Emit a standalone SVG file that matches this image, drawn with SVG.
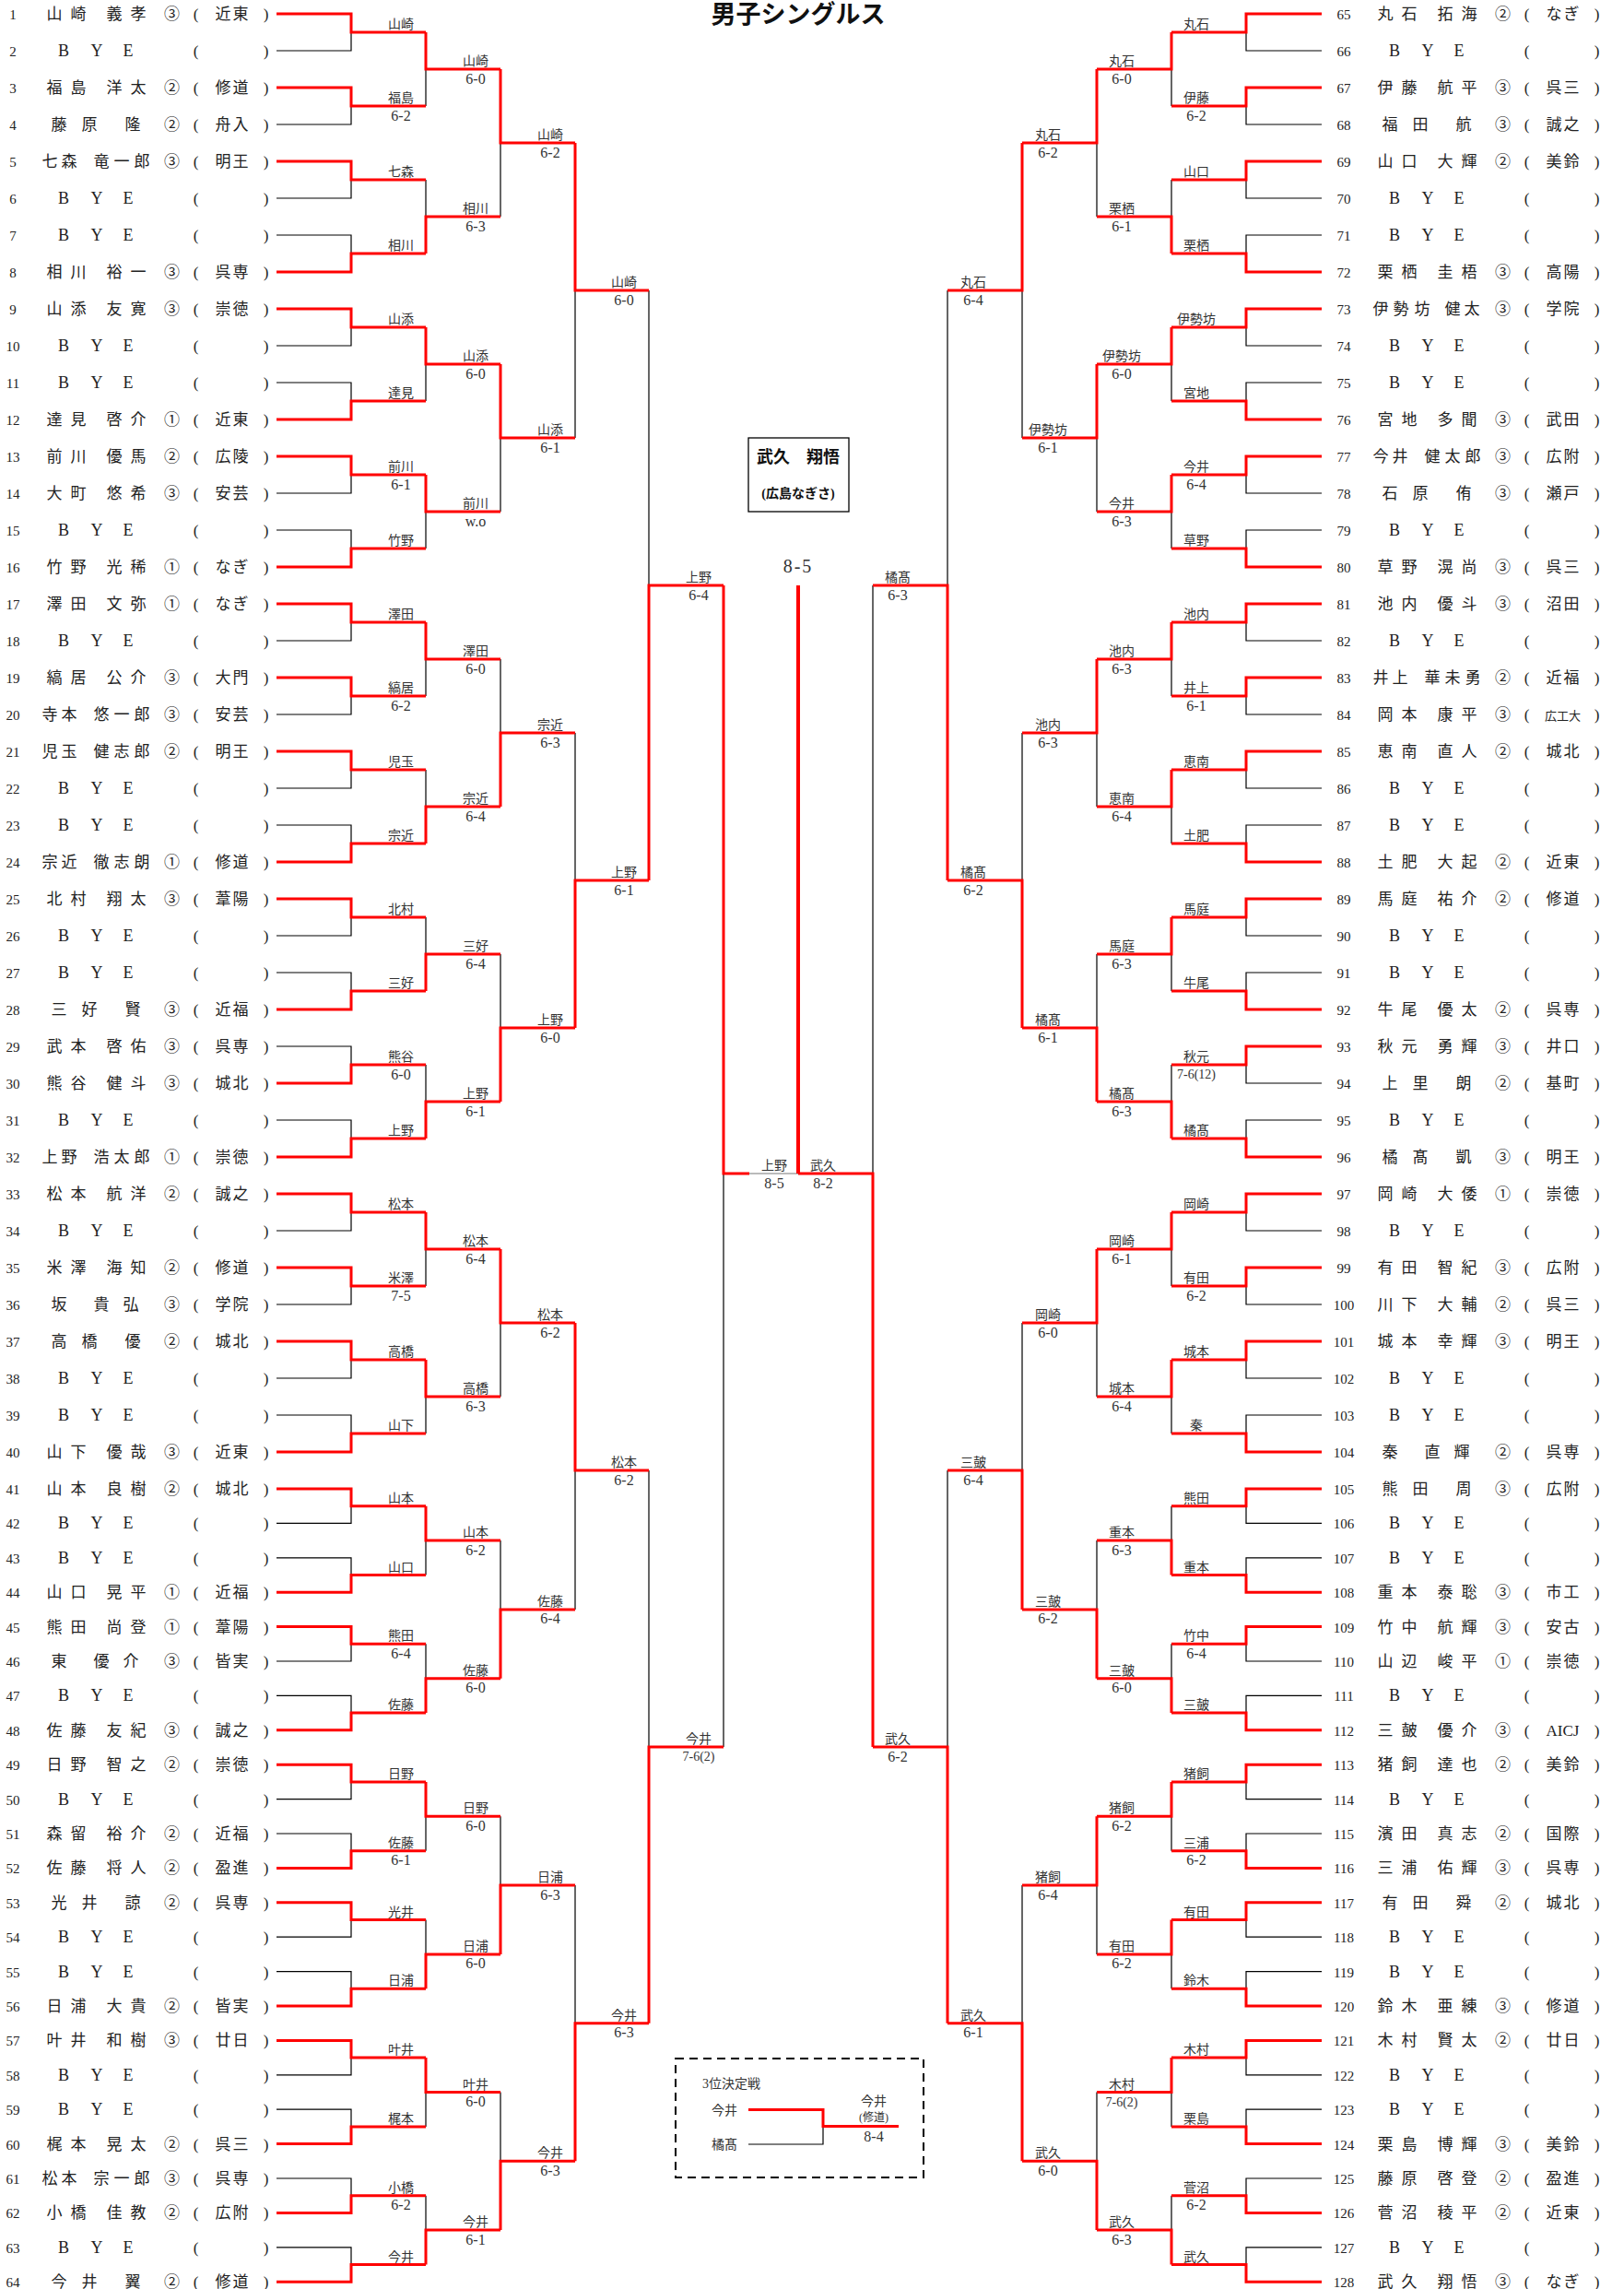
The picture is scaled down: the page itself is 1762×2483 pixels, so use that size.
<svg xmlns="http://www.w3.org/2000/svg" width="1762" height="2483" viewBox="0 0 1762 2483">
<style>
.no{font:15px "Liberation Serif",serif;fill:#222;text-anchor:middle}
.t{font:17px "Liberation Serif","Noto Sans CJK JP",serif;fill:#222;text-anchor:middle}
.by{font:18px "Liberation Serif",serif;fill:#222;text-anchor:middle}
.ts{font:13px "Liberation Serif","Noto Sans CJK JP",serif;fill:#222;text-anchor:middle}
.lb{font:14px "Liberation Serif","Noto Sans CJK JP",serif;fill:#333;text-anchor:middle}
.sc{font:16px "Liberation Serif",serif;fill:#333;text-anchor:middle}
.sm{font-size:14px}
.r{fill:none;stroke:#f00;stroke-width:3}
.k{fill:none;stroke:#000;stroke-width:1.2}
.g{fill:none;stroke:#777;stroke-width:1}
.ttl{font:bold 27px "Liberation Serif","Noto Sans CJK JP",serif;fill:#111;text-anchor:middle}
.ch{font-family:"Liberation Serif","Noto Sans CJK JP",serif;font-weight:bold;fill:#111;text-anchor:middle}
</style>
<rect width="1762" height="2483" fill="#fff"/>
<g id="title"><text class="ttl" x="866" y="25">男子シングルス</text></g>
<g id="connectors">
<path class="k" d="M300,55H381V35M300,135H381V115M300,215H381V195M300,255H381V275M300,375H381V355M300,415H381V435M300,535H381V515M300,575H381V595M300,695H381V675M300,775H381V755M300,855H381V835M300,895H381V915M300,1015H381V995M300,1055H381V1075M300,1135H381V1155M300,1215H381V1235M300,1335H381V1315M300,1415H381V1395M300,1495H381V1475M300,1535H381V1555M300,1652.4H381V1633.7M300,1689.8H381V1708.5M300,1802H381V1783.3M300,1839.4H381V1858.1M300,1951.6H381V1932.9M300,1989H381V2007.7M300,2101.2H381V2082.5M300,2138.6H381V2157.3M300,2250.8H381V2232.1M300,2288.2H381V2306.9M300,2363H381V2381.7M300,2437.8H381V2456.5"/>
<path class="k" d="M1434,55H1352V35M1434,135H1352V115M1434,215H1352V195M1434,255H1352V275M1434,375H1352V355M1434,415H1352V435M1434,535H1352V515M1434,575H1352V595M1434,695H1352V675M1434,775H1352V755M1434,855H1352V835M1434,895H1352V915M1434,1015H1352V995M1434,1055H1352V1075M1434,1175H1352V1155M1434,1215H1352V1235M1434,1335H1352V1315M1434,1415H1352V1395M1434,1495H1352V1475M1434,1535H1352V1555M1434,1652.4H1352V1633.7M1434,1689.8H1352V1708.5M1434,1802H1352V1783.3M1434,1839.4H1352V1858.1M1434,1951.6H1352V1932.9M1434,1989H1352V2007.7M1434,2101.2H1352V2082.5M1434,2138.6H1352V2157.3M1434,2250.8H1352V2232.1M1434,2288.2H1352V2306.9M1434,2363H1352V2381.7M1434,2437.8H1352V2456.5"/>
<path class="k" d="M462,115V75M462,195V235M462,435V395M462,595V555M462,755V715M462,835V875M462,995V1035M462,1155V1195M462,1395V1355M462,1555V1515M462,1708.5V1671.1M462,1783.3V1820.7M462,2007.7V1970.3M462,2082.5V2119.9M462,2306.9V2269.5M462,2381.7V2419.1"/>
<path class="k" d="M543,235V155M543,555V475M543,715V795M543,1035V1115M543,1515V1435M543,1671.1V1745.9M543,1970.3V2045.1M543,2269.5V2344.3"/>
<path class="k" d="M624,475V315M624,795V955M624,1745.9V1595M624,2045.1V2194.7M704,315V635M704,1595V1895M785,1895V1273"/>
<path class="k" d="M947,635V1273M1028,315V635M1028,1595V1895M1109,475V315M1109,795V955M1109,1435V1595M1109,2045.1V2194.7"/>
<path class="k" d="M1190,235V155M1190,555V475M1190,875V795M1190,1035V1115M1190,1515V1435M1190,1671.1V1745.9M1190,2119.9V2045.1M1190,2269.5V2344.3"/>
<path class="k" d="M1271,115V75M1271,195V235M1271,435V395M1271,595V555M1271,755V715M1271,915V875M1271,1075V1035M1271,1155V1195M1271,1395V1355M1271,1555V1515M1271,1633.7V1671.1M1271,1783.3V1820.7M1271,2007.7V1970.3M1271,2157.3V2119.9M1271,2306.9V2269.5M1271,2381.7V2419.1"/>
<path class="g" d="M813,1273H866"/>
<path class="r" d="M300,15H381V35H462M300,95H381V115H462M300,175H381V195H462M300,295H381V275H462M300,335H381V355H462M300,455H381V435H462M300,495H381V515H462M300,615H381V595H462M300,655H381V675H462M300,735H381V755H462M300,815H381V835H462M300,935H381V915H462M300,975H381V995H462M300,1095H381V1075H462M300,1175H381V1155H462M300,1255H381V1235H462M300,1295H381V1315H462M300,1375H381V1395H462M300,1455H381V1475H462M300,1575H381V1555H462M300,1615H381V1633.7H462M300,1727.2H381V1708.5H462M300,1764.6H381V1783.3H462M300,1876.8H381V1858.1H462M300,1914.2H381V1932.9H462M300,2026.4H381V2007.7H462M300,2063.8H381V2082.5H462M300,2176H381V2157.3H462M300,2213.4H381V2232.1H462M300,2325.6H381V2306.9H462M300,2400.4H381V2381.7H462M300,2475.2H381V2456.5H462"/>
<path class="r" d="M1434,15H1352V35H1271M1434,95H1352V115H1271M1434,175H1352V195H1271M1434,295H1352V275H1271M1434,335H1352V355H1271M1434,455H1352V435H1271M1434,495H1352V515H1271M1434,615H1352V595H1271M1434,655H1352V675H1271M1434,735H1352V755H1271M1434,815H1352V835H1271M1434,935H1352V915H1271M1434,975H1352V995H1271M1434,1095H1352V1075H1271M1434,1135H1352V1155H1271M1434,1255H1352V1235H1271M1434,1295H1352V1315H1271M1434,1375H1352V1395H1271M1434,1455H1352V1475H1271M1434,1575H1352V1555H1271M1434,1615H1352V1633.7H1271M1434,1727.2H1352V1708.5H1271M1434,1764.6H1352V1783.3H1271M1434,1876.8H1352V1858.1H1271M1434,1914.2H1352V1932.9H1271M1434,2026.4H1352V2007.7H1271M1434,2063.8H1352V2082.5H1271M1434,2176H1352V2157.3H1271M1434,2213.4H1352V2232.1H1271M1434,2325.6H1352V2306.9H1271M1434,2400.4H1352V2381.7H1271M1434,2475.2H1352V2456.5H1271"/>
<path class="r" d="M462,35V75H543M462,275V235H543M462,355V395H543M462,515V555H543M462,675V715H543M462,915V875H543M462,1075V1035H543M462,1235V1195H543M462,1315V1355H543M462,1475V1515H543M462,1633.7V1671.1H543M462,1858.1V1820.7H543M462,1932.9V1970.3H543M462,2157.3V2119.9H543M462,2232.1V2269.5H543M462,2456.5V2419.1H543"/>
<path class="r" d="M543,75V155H624M543,395V475H624M543,875V795H624M543,1195V1115H624M543,1355V1435H624M543,1820.7V1745.9H624M543,2119.9V2045.1H624M543,2419.1V2344.3H624"/>
<path class="r" d="M624,155V315H704M624,1115V955H704M624,1435V1595H704M624,2344.3V2194.7H704M704,955V635H785M704,2194.7V1895H785M785,635V1273H813"/>
<path class="r" d="M866,635V1273" style="stroke-width:4"/>
<path class="r" d="M947,1895V1273H866M1028,955V635H947M1028,2194.7V1895H947M1109,155V315H1028M1109,1115V955H1028M1109,1745.9V1595H1028M1109,2344.3V2194.7H1028"/>
<path class="r" d="M1190,75V155H1109M1190,395V475H1109M1190,715V795H1109M1190,1195V1115H1109M1190,1355V1435H1109M1190,1820.7V1745.9H1109M1190,1970.3V2045.1H1109M1190,2419.1V2344.3H1109"/>
<path class="r" d="M1271,35V75H1190M1271,275V235H1190M1271,355V395H1190M1271,515V555H1190M1271,675V715H1190M1271,835V875H1190M1271,995V1035H1190M1271,1235V1195H1190M1271,1315V1355H1190M1271,1475V1515H1190M1271,1708.5V1671.1H1190M1271,1858.1V1820.7H1190M1271,1932.9V1970.3H1190M1271,2082.5V2119.9H1190M1271,2232.1V2269.5H1190M1271,2456.5V2419.1H1190"/>
<path class="k" d="M812,2326H893V2306.4"/>
<path class="r" d="M812,2288.4H893V2306.4H975"/>
</g>
<g id="players">
<g id="p1" transform="translate(0,21)"><text class="no" x="14">1</text><text class="t" x="59 85 104 124 150">山崎　義孝</text><text class="t" x="186.5 212.5 242 261 288.5">③(近東)</text></g>
<g id="p2" transform="translate(0,61)"><text class="no" x="14">2</text><text class="by" x="69 105 139">BYE</text><text class="t" x="212.5 288.5">()</text></g>
<g id="p3" transform="translate(0,101)"><text class="no" x="14">3</text><text class="t" x="59 85 104 124 150">福島　洋太</text><text class="t" x="186.5 212.5 242 261 288.5">②(修道)</text></g>
<g id="p4" transform="translate(0,141)"><text class="no" x="14">4</text><text class="t" x="64 97 120 144">藤原　隆</text><text class="t" x="186.5 212.5 242 261 288.5">②(舟入)</text></g>
<g id="p5" transform="translate(0,181)"><text class="no" x="14">5</text><text class="t" x="54 75 92 110 132 154">七森　竜一郎</text><text class="t" x="186.5 212.5 242 261 288.5">③(明王)</text></g>
<g id="p6" transform="translate(0,221)"><text class="no" x="14">6</text><text class="by" x="69 105 139">BYE</text><text class="t" x="212.5 288.5">()</text></g>
<g id="p7" transform="translate(0,261)"><text class="no" x="14">7</text><text class="by" x="69 105 139">BYE</text><text class="t" x="212.5 288.5">()</text></g>
<g id="p8" transform="translate(0,301)"><text class="no" x="14">8</text><text class="t" x="59 85 104 124 150">相川　裕一</text><text class="t" x="186.5 212.5 242 261 288.5">③(呉専)</text></g>
<g id="p9" transform="translate(0,341)"><text class="no" x="14">9</text><text class="t" x="59 85 104 124 150">山添　友寛</text><text class="t" x="186.5 212.5 242 261 288.5">③(崇徳)</text></g>
<g id="p10" transform="translate(0,381)"><text class="no" x="14">10</text><text class="by" x="69 105 139">BYE</text><text class="t" x="212.5 288.5">()</text></g>
<g id="p11" transform="translate(0,421)"><text class="no" x="14">11</text><text class="by" x="69 105 139">BYE</text><text class="t" x="212.5 288.5">()</text></g>
<g id="p12" transform="translate(0,461)"><text class="no" x="14">12</text><text class="t" x="59 85 104 124 150">達見　啓介</text><text class="t" x="186.5 212.5 242 261 288.5">①(近東)</text></g>
<g id="p13" transform="translate(0,501)"><text class="no" x="14">13</text><text class="t" x="59 85 104 124 150">前川　優馬</text><text class="t" x="186.5 212.5 242 261 288.5">②(広陵)</text></g>
<g id="p14" transform="translate(0,541)"><text class="no" x="14">14</text><text class="t" x="59 85 104 124 150">大町　悠希</text><text class="t" x="186.5 212.5 242 261 288.5">③(安芸)</text></g>
<g id="p15" transform="translate(0,581)"><text class="no" x="14">15</text><text class="by" x="69 105 139">BYE</text><text class="t" x="212.5 288.5">()</text></g>
<g id="p16" transform="translate(0,621)"><text class="no" x="14">16</text><text class="t" x="59 85 104 124 150">竹野　光稀</text><text class="t" x="186.5 212.5 242 261 288.5">①(なぎ)</text></g>
<g id="p17" transform="translate(0,661)"><text class="no" x="14">17</text><text class="t" x="59 85 104 124 150">澤田　文弥</text><text class="t" x="186.5 212.5 242 261 288.5">①(なぎ)</text></g>
<g id="p18" transform="translate(0,701)"><text class="no" x="14">18</text><text class="by" x="69 105 139">BYE</text><text class="t" x="212.5 288.5">()</text></g>
<g id="p19" transform="translate(0,741)"><text class="no" x="14">19</text><text class="t" x="59 85 104 124 150">縞居　公介</text><text class="t" x="186.5 212.5 242 261 288.5">③(大門)</text></g>
<g id="p20" transform="translate(0,781)"><text class="no" x="14">20</text><text class="t" x="54 75 92 110 132 154">寺本　悠一郎</text><text class="t" x="186.5 212.5 242 261 288.5">③(安芸)</text></g>
<g id="p21" transform="translate(0,821)"><text class="no" x="14">21</text><text class="t" x="54 75 92 110 132 154">児玉　健志郎</text><text class="t" x="186.5 212.5 242 261 288.5">②(明王)</text></g>
<g id="p22" transform="translate(0,861)"><text class="no" x="14">22</text><text class="by" x="69 105 139">BYE</text><text class="t" x="212.5 288.5">()</text></g>
<g id="p23" transform="translate(0,901)"><text class="no" x="14">23</text><text class="by" x="69 105 139">BYE</text><text class="t" x="212.5 288.5">()</text></g>
<g id="p24" transform="translate(0,941)"><text class="no" x="14">24</text><text class="t" x="54 75 92 110 132 154">宗近　徹志朗</text><text class="t" x="186.5 212.5 242 261 288.5">①(修道)</text></g>
<g id="p25" transform="translate(0,981)"><text class="no" x="14">25</text><text class="t" x="59 85 104 124 150">北村　翔太</text><text class="t" x="186.5 212.5 242 261 288.5">③(葦陽)</text></g>
<g id="p26" transform="translate(0,1021)"><text class="no" x="14">26</text><text class="by" x="69 105 139">BYE</text><text class="t" x="212.5 288.5">()</text></g>
<g id="p27" transform="translate(0,1061)"><text class="no" x="14">27</text><text class="by" x="69 105 139">BYE</text><text class="t" x="212.5 288.5">()</text></g>
<g id="p28" transform="translate(0,1101)"><text class="no" x="14">28</text><text class="t" x="64 97 120 144">三好　賢</text><text class="t" x="186.5 212.5 242 261 288.5">③(近福)</text></g>
<g id="p29" transform="translate(0,1141)"><text class="no" x="14">29</text><text class="t" x="59 85 104 124 150">武本　啓佑</text><text class="t" x="186.5 212.5 242 261 288.5">③(呉専)</text></g>
<g id="p30" transform="translate(0,1181)"><text class="no" x="14">30</text><text class="t" x="59 85 104 124 150">熊谷　健斗</text><text class="t" x="186.5 212.5 242 261 288.5">③(城北)</text></g>
<g id="p31" transform="translate(0,1221)"><text class="no" x="14">31</text><text class="by" x="69 105 139">BYE</text><text class="t" x="212.5 288.5">()</text></g>
<g id="p32" transform="translate(0,1261)"><text class="no" x="14">32</text><text class="t" x="54 75 92 110 132 154">上野　浩太郎</text><text class="t" x="186.5 212.5 242 261 288.5">①(崇徳)</text></g>
<g id="p33" transform="translate(0,1301)"><text class="no" x="14">33</text><text class="t" x="59 85 104 124 150">松本　航洋</text><text class="t" x="186.5 212.5 242 261 288.5">②(誠之)</text></g>
<g id="p34" transform="translate(0,1341)"><text class="no" x="14">34</text><text class="by" x="69 105 139">BYE</text><text class="t" x="212.5 288.5">()</text></g>
<g id="p35" transform="translate(0,1381)"><text class="no" x="14">35</text><text class="t" x="59 85 104 124 150">米澤　海知</text><text class="t" x="186.5 212.5 242 261 288.5">②(修道)</text></g>
<g id="p36" transform="translate(0,1421)"><text class="no" x="14">36</text><text class="t" x="64 87 110 142">坂　貴弘</text><text class="t" x="186.5 212.5 242 261 288.5">③(学院)</text></g>
<g id="p37" transform="translate(0,1461)"><text class="no" x="14">37</text><text class="t" x="64 97 120 144">高橋　優</text><text class="t" x="186.5 212.5 242 261 288.5">②(城北)</text></g>
<g id="p38" transform="translate(0,1501)"><text class="no" x="14">38</text><text class="by" x="69 105 139">BYE</text><text class="t" x="212.5 288.5">()</text></g>
<g id="p39" transform="translate(0,1541)"><text class="no" x="14">39</text><text class="by" x="69 105 139">BYE</text><text class="t" x="212.5 288.5">()</text></g>
<g id="p40" transform="translate(0,1581)"><text class="no" x="14">40</text><text class="t" x="59 85 104 124 150">山下　優哉</text><text class="t" x="186.5 212.5 242 261 288.5">③(近東)</text></g>
<g id="p41" transform="translate(0,1621)"><text class="no" x="14">41</text><text class="t" x="59 85 104 124 150">山本　良樹</text><text class="t" x="186.5 212.5 242 261 288.5">②(城北)</text></g>
<g id="p42" transform="translate(0,1658.4)"><text class="no" x="14">42</text><text class="by" x="69 105 139">BYE</text><text class="t" x="212.5 288.5">()</text></g>
<g id="p43" transform="translate(0,1695.8)"><text class="no" x="14">43</text><text class="by" x="69 105 139">BYE</text><text class="t" x="212.5 288.5">()</text></g>
<g id="p44" transform="translate(0,1733.2)"><text class="no" x="14">44</text><text class="t" x="59 85 104 124 150">山口　晃平</text><text class="t" x="186.5 212.5 242 261 288.5">①(近福)</text></g>
<g id="p45" transform="translate(0,1770.6)"><text class="no" x="14">45</text><text class="t" x="59 85 104 124 150">熊田　尚登</text><text class="t" x="186.5 212.5 242 261 288.5">①(葦陽)</text></g>
<g id="p46" transform="translate(0,1808)"><text class="no" x="14">46</text><text class="t" x="64 87 110 142">東　優介</text><text class="t" x="186.5 212.5 242 261 288.5">③(皆実)</text></g>
<g id="p47" transform="translate(0,1845.4)"><text class="no" x="14">47</text><text class="by" x="69 105 139">BYE</text><text class="t" x="212.5 288.5">()</text></g>
<g id="p48" transform="translate(0,1882.8)"><text class="no" x="14">48</text><text class="t" x="59 85 104 124 150">佐藤　友紀</text><text class="t" x="186.5 212.5 242 261 288.5">③(誠之)</text></g>
<g id="p49" transform="translate(0,1920.2)"><text class="no" x="14">49</text><text class="t" x="59 85 104 124 150">日野　智之</text><text class="t" x="186.5 212.5 242 261 288.5">②(崇徳)</text></g>
<g id="p50" transform="translate(0,1957.6)"><text class="no" x="14">50</text><text class="by" x="69 105 139">BYE</text><text class="t" x="212.5 288.5">()</text></g>
<g id="p51" transform="translate(0,1995)"><text class="no" x="14">51</text><text class="t" x="59 85 104 124 150">森留　裕介</text><text class="t" x="186.5 212.5 242 261 288.5">②(近福)</text></g>
<g id="p52" transform="translate(0,2032.4)"><text class="no" x="14">52</text><text class="t" x="59 85 104 124 150">佐藤　将人</text><text class="t" x="186.5 212.5 242 261 288.5">②(盈進)</text></g>
<g id="p53" transform="translate(0,2069.8)"><text class="no" x="14">53</text><text class="t" x="64 97 120 144">光井　諒</text><text class="t" x="186.5 212.5 242 261 288.5">②(呉専)</text></g>
<g id="p54" transform="translate(0,2107.2)"><text class="no" x="14">54</text><text class="by" x="69 105 139">BYE</text><text class="t" x="212.5 288.5">()</text></g>
<g id="p55" transform="translate(0,2144.6)"><text class="no" x="14">55</text><text class="by" x="69 105 139">BYE</text><text class="t" x="212.5 288.5">()</text></g>
<g id="p56" transform="translate(0,2182)"><text class="no" x="14">56</text><text class="t" x="59 85 104 124 150">日浦　大貴</text><text class="t" x="186.5 212.5 242 261 288.5">②(皆実)</text></g>
<g id="p57" transform="translate(0,2219.4)"><text class="no" x="14">57</text><text class="t" x="59 85 104 124 150">叶井　和樹</text><text class="t" x="186.5 212.5 242 261 288.5">③(廿日)</text></g>
<g id="p58" transform="translate(0,2256.8)"><text class="no" x="14">58</text><text class="by" x="69 105 139">BYE</text><text class="t" x="212.5 288.5">()</text></g>
<g id="p59" transform="translate(0,2294.2)"><text class="no" x="14">59</text><text class="by" x="69 105 139">BYE</text><text class="t" x="212.5 288.5">()</text></g>
<g id="p60" transform="translate(0,2331.6)"><text class="no" x="14">60</text><text class="t" x="59 85 104 124 150">梶本　晃太</text><text class="t" x="186.5 212.5 242 261 288.5">②(呉三)</text></g>
<g id="p61" transform="translate(0,2369)"><text class="no" x="14">61</text><text class="t" x="54 75 92 110 132 154">松本　宗一郎</text><text class="t" x="186.5 212.5 242 261 288.5">③(呉専)</text></g>
<g id="p62" transform="translate(0,2406.4)"><text class="no" x="14">62</text><text class="t" x="59 85 104 124 150">小橋　佳教</text><text class="t" x="186.5 212.5 242 261 288.5">②(広附)</text></g>
<g id="p63" transform="translate(0,2443.8)"><text class="no" x="14">63</text><text class="by" x="69 105 139">BYE</text><text class="t" x="212.5 288.5">()</text></g>
<g id="p64" transform="translate(0,2481.2)"><text class="no" x="14">64</text><text class="t" x="64 97 120 144">今井　翼</text><text class="t" x="186.5 212.5 242 261 288.5">②(修道)</text></g>
<g id="p65" transform="translate(1444,21)"><text class="no" x="14">65</text><text class="t" x="59 85 104 124 150">丸石　拓海</text><text class="t" x="186.5 212.5 242 261 288.5">②(なぎ)</text></g>
<g id="p66" transform="translate(1444,61)"><text class="no" x="14">66</text><text class="by" x="69 105 139">BYE</text><text class="t" x="212.5 288.5">()</text></g>
<g id="p67" transform="translate(1444,101)"><text class="no" x="14">67</text><text class="t" x="59 85 104 124 150">伊藤　航平</text><text class="t" x="186.5 212.5 242 261 288.5">③(呉三)</text></g>
<g id="p68" transform="translate(1444,141)"><text class="no" x="14">68</text><text class="t" x="64 97 120 144">福田　航</text><text class="t" x="186.5 212.5 242 261 288.5">③(誠之)</text></g>
<g id="p69" transform="translate(1444,181)"><text class="no" x="14">69</text><text class="t" x="59 85 104 124 150">山口　大輝</text><text class="t" x="186.5 212.5 242 261 288.5">②(美鈴)</text></g>
<g id="p70" transform="translate(1444,221)"><text class="no" x="14">70</text><text class="by" x="69 105 139">BYE</text><text class="t" x="212.5 288.5">()</text></g>
<g id="p71" transform="translate(1444,261)"><text class="no" x="14">71</text><text class="by" x="69 105 139">BYE</text><text class="t" x="212.5 288.5">()</text></g>
<g id="p72" transform="translate(1444,301)"><text class="no" x="14">72</text><text class="t" x="59 85 104 124 150">栗栖　圭梧</text><text class="t" x="186.5 212.5 242 261 288.5">③(高陽)</text></g>
<g id="p73" transform="translate(1444,341)"><text class="no" x="14">73</text><text class="t" x="54 76 99 115 132 153">伊勢坊　健太</text><text class="t" x="186.5 212.5 242 261 288.5">③(学院)</text></g>
<g id="p74" transform="translate(1444,381)"><text class="no" x="14">74</text><text class="by" x="69 105 139">BYE</text><text class="t" x="212.5 288.5">()</text></g>
<g id="p75" transform="translate(1444,421)"><text class="no" x="14">75</text><text class="by" x="69 105 139">BYE</text><text class="t" x="212.5 288.5">()</text></g>
<g id="p76" transform="translate(1444,461)"><text class="no" x="14">76</text><text class="t" x="59 85 104 124 150">宮地　多聞</text><text class="t" x="186.5 212.5 242 261 288.5">③(武田)</text></g>
<g id="p77" transform="translate(1444,501)"><text class="no" x="14">77</text><text class="t" x="54 75 92 110 132 154">今井　健太郎</text><text class="t" x="186.5 212.5 242 261 288.5">③(広附)</text></g>
<g id="p78" transform="translate(1444,541)"><text class="no" x="14">78</text><text class="t" x="64 97 120 144">石原　侑</text><text class="t" x="186.5 212.5 242 261 288.5">③(瀬戸)</text></g>
<g id="p79" transform="translate(1444,581)"><text class="no" x="14">79</text><text class="by" x="69 105 139">BYE</text><text class="t" x="212.5 288.5">()</text></g>
<g id="p80" transform="translate(1444,621)"><text class="no" x="14">80</text><text class="t" x="59 85 104 124 150">草野　滉尚</text><text class="t" x="186.5 212.5 242 261 288.5">③(呉三)</text></g>
<g id="p81" transform="translate(1444,661)"><text class="no" x="14">81</text><text class="t" x="59 85 104 124 150">池内　優斗</text><text class="t" x="186.5 212.5 242 261 288.5">③(沼田)</text></g>
<g id="p82" transform="translate(1444,701)"><text class="no" x="14">82</text><text class="by" x="69 105 139">BYE</text><text class="t" x="212.5 288.5">()</text></g>
<g id="p83" transform="translate(1444,741)"><text class="no" x="14">83</text><text class="t" x="54 75 92 110 132 154">井上　華未勇</text><text class="t" x="186.5 212.5 242 261 288.5">②(近福)</text></g>
<g id="p84" transform="translate(1444,781)"><text class="no" x="14">84</text><text class="t" x="59 85 104 124 150">岡本　康平</text><text class="t" x="186.5">③</text><text class="t" x="212.5">(</text><text class="ts" x="251.5">広工大</text><text class="t" x="288.5">)</text></g>
<g id="p85" transform="translate(1444,821)"><text class="no" x="14">85</text><text class="t" x="59 85 104 124 150">恵南　直人</text><text class="t" x="186.5 212.5 242 261 288.5">②(城北)</text></g>
<g id="p86" transform="translate(1444,861)"><text class="no" x="14">86</text><text class="by" x="69 105 139">BYE</text><text class="t" x="212.5 288.5">()</text></g>
<g id="p87" transform="translate(1444,901)"><text class="no" x="14">87</text><text class="by" x="69 105 139">BYE</text><text class="t" x="212.5 288.5">()</text></g>
<g id="p88" transform="translate(1444,941)"><text class="no" x="14">88</text><text class="t" x="59 85 104 124 150">土肥　大起</text><text class="t" x="186.5 212.5 242 261 288.5">②(近東)</text></g>
<g id="p89" transform="translate(1444,981)"><text class="no" x="14">89</text><text class="t" x="59 85 104 124 150">馬庭　祐介</text><text class="t" x="186.5 212.5 242 261 288.5">②(修道)</text></g>
<g id="p90" transform="translate(1444,1021)"><text class="no" x="14">90</text><text class="by" x="69 105 139">BYE</text><text class="t" x="212.5 288.5">()</text></g>
<g id="p91" transform="translate(1444,1061)"><text class="no" x="14">91</text><text class="by" x="69 105 139">BYE</text><text class="t" x="212.5 288.5">()</text></g>
<g id="p92" transform="translate(1444,1101)"><text class="no" x="14">92</text><text class="t" x="59 85 104 124 150">牛尾　優太</text><text class="t" x="186.5 212.5 242 261 288.5">②(呉専)</text></g>
<g id="p93" transform="translate(1444,1141)"><text class="no" x="14">93</text><text class="t" x="59 85 104 124 150">秋元　勇輝</text><text class="t" x="186.5 212.5 242 261 288.5">③(井口)</text></g>
<g id="p94" transform="translate(1444,1181)"><text class="no" x="14">94</text><text class="t" x="64 97 120 144">上里　朗</text><text class="t" x="186.5 212.5 242 261 288.5">②(基町)</text></g>
<g id="p95" transform="translate(1444,1221)"><text class="no" x="14">95</text><text class="by" x="69 105 139">BYE</text><text class="t" x="212.5 288.5">()</text></g>
<g id="p96" transform="translate(1444,1261)"><text class="no" x="14">96</text><text class="t" x="64 97 120 144">橘髙　凱</text><text class="t" x="186.5 212.5 242 261 288.5">③(明王)</text></g>
<g id="p97" transform="translate(1444,1301)"><text class="no" x="14">97</text><text class="t" x="59 85 104 124 150">岡崎　大倭</text><text class="t" x="186.5 212.5 242 261 288.5">①(崇徳)</text></g>
<g id="p98" transform="translate(1444,1341)"><text class="no" x="14">98</text><text class="by" x="69 105 139">BYE</text><text class="t" x="212.5 288.5">()</text></g>
<g id="p99" transform="translate(1444,1381)"><text class="no" x="14">99</text><text class="t" x="59 85 104 124 150">有田　智紀</text><text class="t" x="186.5 212.5 242 261 288.5">③(広附)</text></g>
<g id="p100" transform="translate(1444,1421)"><text class="no" x="14">100</text><text class="t" x="59 85 104 124 150">川下　大輔</text><text class="t" x="186.5 212.5 242 261 288.5">②(呉三)</text></g>
<g id="p101" transform="translate(1444,1461)"><text class="no" x="14">101</text><text class="t" x="59 85 104 124 150">城本　幸輝</text><text class="t" x="186.5 212.5 242 261 288.5">③(明王)</text></g>
<g id="p102" transform="translate(1444,1501)"><text class="no" x="14">102</text><text class="by" x="69 105 139">BYE</text><text class="t" x="212.5 288.5">()</text></g>
<g id="p103" transform="translate(1444,1541)"><text class="no" x="14">103</text><text class="by" x="69 105 139">BYE</text><text class="t" x="212.5 288.5">()</text></g>
<g id="p104" transform="translate(1444,1581)"><text class="no" x="14">104</text><text class="t" x="64 87 110 142">秦　直輝</text><text class="t" x="186.5 212.5 242 261 288.5">②(呉専)</text></g>
<g id="p105" transform="translate(1444,1621)"><text class="no" x="14">105</text><text class="t" x="64 97 120 144">熊田　周</text><text class="t" x="186.5 212.5 242 261 288.5">③(広附)</text></g>
<g id="p106" transform="translate(1444,1658.4)"><text class="no" x="14">106</text><text class="by" x="69 105 139">BYE</text><text class="t" x="212.5 288.5">()</text></g>
<g id="p107" transform="translate(1444,1695.8)"><text class="no" x="14">107</text><text class="by" x="69 105 139">BYE</text><text class="t" x="212.5 288.5">()</text></g>
<g id="p108" transform="translate(1444,1733.2)"><text class="no" x="14">108</text><text class="t" x="59 85 104 124 150">重本　泰聡</text><text class="t" x="186.5 212.5 242 261 288.5">③(市工)</text></g>
<g id="p109" transform="translate(1444,1770.6)"><text class="no" x="14">109</text><text class="t" x="59 85 104 124 150">竹中　航輝</text><text class="t" x="186.5 212.5 242 261 288.5">③(安古)</text></g>
<g id="p110" transform="translate(1444,1808)"><text class="no" x="14">110</text><text class="t" x="59 85 104 124 150">山辺　峻平</text><text class="t" x="186.5 212.5 242 261 288.5">①(崇徳)</text></g>
<g id="p111" transform="translate(1444,1845.4)"><text class="no" x="14">111</text><text class="by" x="69 105 139">BYE</text><text class="t" x="212.5 288.5">()</text></g>
<g id="p112" transform="translate(1444,1882.8)"><text class="no" x="14">112</text><text class="t" x="59 85 104 124 150">三皷　優介</text><text class="t" x="186.5">③</text><text class="t" x="212.5">(</text><text class="t" x="251.5">AICJ</text><text class="t" x="288.5">)</text></g>
<g id="p113" transform="translate(1444,1920.2)"><text class="no" x="14">113</text><text class="t" x="59 85 104 124 150">猪飼　達也</text><text class="t" x="186.5 212.5 242 261 288.5">②(美鈴)</text></g>
<g id="p114" transform="translate(1444,1957.6)"><text class="no" x="14">114</text><text class="by" x="69 105 139">BYE</text><text class="t" x="212.5 288.5">()</text></g>
<g id="p115" transform="translate(1444,1995)"><text class="no" x="14">115</text><text class="t" x="59 85 104 124 150">濱田　真志</text><text class="t" x="186.5 212.5 242 261 288.5">②(国際)</text></g>
<g id="p116" transform="translate(1444,2032.4)"><text class="no" x="14">116</text><text class="t" x="59 85 104 124 150">三浦　佑輝</text><text class="t" x="186.5 212.5 242 261 288.5">③(呉専)</text></g>
<g id="p117" transform="translate(1444,2069.8)"><text class="no" x="14">117</text><text class="t" x="64 97 120 144">有田　舜</text><text class="t" x="186.5 212.5 242 261 288.5">②(城北)</text></g>
<g id="p118" transform="translate(1444,2107.2)"><text class="no" x="14">118</text><text class="by" x="69 105 139">BYE</text><text class="t" x="212.5 288.5">()</text></g>
<g id="p119" transform="translate(1444,2144.6)"><text class="no" x="14">119</text><text class="by" x="69 105 139">BYE</text><text class="t" x="212.5 288.5">()</text></g>
<g id="p120" transform="translate(1444,2182)"><text class="no" x="14">120</text><text class="t" x="59 85 104 124 150">鈴木　亜練</text><text class="t" x="186.5 212.5 242 261 288.5">③(修道)</text></g>
<g id="p121" transform="translate(1444,2219.4)"><text class="no" x="14">121</text><text class="t" x="59 85 104 124 150">木村　賢太</text><text class="t" x="186.5 212.5 242 261 288.5">②(廿日)</text></g>
<g id="p122" transform="translate(1444,2256.8)"><text class="no" x="14">122</text><text class="by" x="69 105 139">BYE</text><text class="t" x="212.5 288.5">()</text></g>
<g id="p123" transform="translate(1444,2294.2)"><text class="no" x="14">123</text><text class="by" x="69 105 139">BYE</text><text class="t" x="212.5 288.5">()</text></g>
<g id="p124" transform="translate(1444,2331.6)"><text class="no" x="14">124</text><text class="t" x="59 85 104 124 150">栗島　博輝</text><text class="t" x="186.5 212.5 242 261 288.5">③(美鈴)</text></g>
<g id="p125" transform="translate(1444,2369)"><text class="no" x="14">125</text><text class="t" x="59 85 104 124 150">藤原　啓登</text><text class="t" x="186.5 212.5 242 261 288.5">②(盈進)</text></g>
<g id="p126" transform="translate(1444,2406.4)"><text class="no" x="14">126</text><text class="t" x="59 85 104 124 150">菅沼　稜平</text><text class="t" x="186.5 212.5 242 261 288.5">②(近東)</text></g>
<g id="p127" transform="translate(1444,2443.8)"><text class="no" x="14">127</text><text class="by" x="69 105 139">BYE</text><text class="t" x="212.5 288.5">()</text></g>
<g id="p128" transform="translate(1444,2481.2)"><text class="no" x="14">128</text><text class="t" x="59 85 104 124 150">武久　翔悟</text><text class="t" x="186.5 212.5 242 261 288.5">③(なぎ)</text></g>
</g>
<g id="results">
<g id="a1-1" transform="translate(435,35)"><text class="lb" y="-4">山崎</text></g>
<g id="a1-2" transform="translate(435,115)"><text class="lb" y="-4">福島</text><text class="sc" y="15.5">6-2</text></g>
<g id="a1-3" transform="translate(435,195)"><text class="lb" y="-4">七森</text></g>
<g id="a1-4" transform="translate(435,275)"><text class="lb" y="-4">相川</text></g>
<g id="a1-5" transform="translate(435,355)"><text class="lb" y="-4">山添</text></g>
<g id="a1-6" transform="translate(435,435)"><text class="lb" y="-4">達見</text></g>
<g id="a1-7" transform="translate(435,515)"><text class="lb" y="-4">前川</text><text class="sc" y="15.5">6-1</text></g>
<g id="a1-8" transform="translate(435,595)"><text class="lb" y="-4">竹野</text></g>
<g id="a1-9" transform="translate(435,675)"><text class="lb" y="-4">澤田</text></g>
<g id="a1-10" transform="translate(435,755)"><text class="lb" y="-4">縞居</text><text class="sc" y="15.5">6-2</text></g>
<g id="a1-11" transform="translate(435,835)"><text class="lb" y="-4">児玉</text></g>
<g id="a1-12" transform="translate(435,915)"><text class="lb" y="-4">宗近</text></g>
<g id="a1-13" transform="translate(435,995)"><text class="lb" y="-4">北村</text></g>
<g id="a1-14" transform="translate(435,1075)"><text class="lb" y="-4">三好</text></g>
<g id="a1-15" transform="translate(435,1155)"><text class="lb" y="-4">熊谷</text><text class="sc" y="15.5">6-0</text></g>
<g id="a1-16" transform="translate(435,1235)"><text class="lb" y="-4">上野</text></g>
<g id="a1-17" transform="translate(435,1315)"><text class="lb" y="-4">松本</text></g>
<g id="a1-18" transform="translate(435,1395)"><text class="lb" y="-4">米澤</text><text class="sc" y="15.5">7-5</text></g>
<g id="a1-19" transform="translate(435,1475)"><text class="lb" y="-4">高橋</text></g>
<g id="a1-20" transform="translate(435,1555)"><text class="lb" y="-4">山下</text></g>
<g id="a1-21" transform="translate(435,1633.7)"><text class="lb" y="-4">山本</text></g>
<g id="a1-22" transform="translate(435,1708.5)"><text class="lb" y="-4">山口</text></g>
<g id="a1-23" transform="translate(435,1783.3)"><text class="lb" y="-4">熊田</text><text class="sc" y="15.5">6-4</text></g>
<g id="a1-24" transform="translate(435,1858.1)"><text class="lb" y="-4">佐藤</text></g>
<g id="a1-25" transform="translate(435,1932.9)"><text class="lb" y="-4">日野</text></g>
<g id="a1-26" transform="translate(435,2007.7)"><text class="lb" y="-4">佐藤</text><text class="sc" y="15.5">6-1</text></g>
<g id="a1-27" transform="translate(435,2082.5)"><text class="lb" y="-4">光井</text></g>
<g id="a1-28" transform="translate(435,2157.3)"><text class="lb" y="-4">日浦</text></g>
<g id="a1-29" transform="translate(435,2232.1)"><text class="lb" y="-4">叶井</text></g>
<g id="a1-30" transform="translate(435,2306.9)"><text class="lb" y="-4">梶本</text></g>
<g id="a1-31" transform="translate(435,2381.7)"><text class="lb" y="-4">小橋</text><text class="sc" y="15.5">6-2</text></g>
<g id="a1-32" transform="translate(435,2456.5)"><text class="lb" y="-4">今井</text></g>
<g id="a2-1" transform="translate(516,75)"><text class="lb" y="-4">山崎</text><text class="sc" y="15.5">6-0</text></g>
<g id="a2-2" transform="translate(516,235)"><text class="lb" y="-4">相川</text><text class="sc" y="15.5">6-3</text></g>
<g id="a2-3" transform="translate(516,395)"><text class="lb" y="-4">山添</text><text class="sc" y="15.5">6-0</text></g>
<g id="a2-4" transform="translate(516,555)"><text class="lb" y="-4">前川</text><text class="sc" y="15.5">w.o</text></g>
<g id="a2-5" transform="translate(516,715)"><text class="lb" y="-4">澤田</text><text class="sc" y="15.5">6-0</text></g>
<g id="a2-6" transform="translate(516,875)"><text class="lb" y="-4">宗近</text><text class="sc" y="15.5">6-4</text></g>
<g id="a2-7" transform="translate(516,1035)"><text class="lb" y="-4">三好</text><text class="sc" y="15.5">6-4</text></g>
<g id="a2-8" transform="translate(516,1195)"><text class="lb" y="-4">上野</text><text class="sc" y="15.5">6-1</text></g>
<g id="a2-9" transform="translate(516,1355)"><text class="lb" y="-4">松本</text><text class="sc" y="15.5">6-4</text></g>
<g id="a2-10" transform="translate(516,1515)"><text class="lb" y="-4">高橋</text><text class="sc" y="15.5">6-3</text></g>
<g id="a2-11" transform="translate(516,1671.1)"><text class="lb" y="-4">山本</text><text class="sc" y="15.5">6-2</text></g>
<g id="a2-12" transform="translate(516,1820.7)"><text class="lb" y="-4">佐藤</text><text class="sc" y="15.5">6-0</text></g>
<g id="a2-13" transform="translate(516,1970.3)"><text class="lb" y="-4">日野</text><text class="sc" y="15.5">6-0</text></g>
<g id="a2-14" transform="translate(516,2119.9)"><text class="lb" y="-4">日浦</text><text class="sc" y="15.5">6-0</text></g>
<g id="a2-15" transform="translate(516,2269.5)"><text class="lb" y="-4">叶井</text><text class="sc" y="15.5">6-0</text></g>
<g id="a2-16" transform="translate(516,2419.1)"><text class="lb" y="-4">今井</text><text class="sc" y="15.5">6-1</text></g>
<g id="a3-1" transform="translate(597,155)"><text class="lb" y="-4">山崎</text><text class="sc" y="15.5">6-2</text></g>
<g id="a3-2" transform="translate(597,475)"><text class="lb" y="-4">山添</text><text class="sc" y="15.5">6-1</text></g>
<g id="a3-3" transform="translate(597,795)"><text class="lb" y="-4">宗近</text><text class="sc" y="15.5">6-3</text></g>
<g id="a3-4" transform="translate(597,1115)"><text class="lb" y="-4">上野</text><text class="sc" y="15.5">6-0</text></g>
<g id="a3-5" transform="translate(597,1435)"><text class="lb" y="-4">松本</text><text class="sc" y="15.5">6-2</text></g>
<g id="a3-6" transform="translate(597,1745.9)"><text class="lb" y="-4">佐藤</text><text class="sc" y="15.5">6-4</text></g>
<g id="a3-7" transform="translate(597,2045.1)"><text class="lb" y="-4">日浦</text><text class="sc" y="15.5">6-3</text></g>
<g id="a3-8" transform="translate(597,2344.3)"><text class="lb" y="-4">今井</text><text class="sc" y="15.5">6-3</text></g>
<g id="a4-1" transform="translate(677,315)"><text class="lb" y="-4">山崎</text><text class="sc" y="15.5">6-0</text></g>
<g id="a4-2" transform="translate(677,955)"><text class="lb" y="-4">上野</text><text class="sc" y="15.5">6-1</text></g>
<g id="a4-3" transform="translate(677,1595)"><text class="lb" y="-4">松本</text><text class="sc" y="15.5">6-2</text></g>
<g id="a4-4" transform="translate(677,2194.7)"><text class="lb" y="-4">今井</text><text class="sc" y="15.5">6-3</text></g>
<g id="a5-1" transform="translate(758,635)"><text class="lb" y="-4">上野</text><text class="sc" y="15.5">6-4</text></g>
<g id="a5-2" transform="translate(758,1895)"><text class="lb" y="-4">今井</text><text class="sc sm" y="15">7-6(2)</text></g>
<g id="a6-1" transform="translate(840,1273)"><text class="lb" y="-4">上野</text><text class="sc" y="15.5">8-5</text></g>
<g id="b6-1" transform="translate(893,1273)"><text class="lb" y="-4">武久</text><text class="sc" y="15.5">8-2</text></g>
<g id="b5-1" transform="translate(974,635)"><text class="lb" y="-4">橘髙</text><text class="sc" y="15.5">6-3</text></g>
<g id="b5-2" transform="translate(974,1895)"><text class="lb" y="-4">武久</text><text class="sc" y="15.5">6-2</text></g>
<g id="b4-1" transform="translate(1056,315)"><text class="lb" y="-4">丸石</text><text class="sc" y="15.5">6-4</text></g>
<g id="b4-2" transform="translate(1056,955)"><text class="lb" y="-4">橘髙</text><text class="sc" y="15.5">6-2</text></g>
<g id="b4-3" transform="translate(1056,1595)"><text class="lb" y="-4">三皷</text><text class="sc" y="15.5">6-4</text></g>
<g id="b4-4" transform="translate(1056,2194.7)"><text class="lb" y="-4">武久</text><text class="sc" y="15.5">6-1</text></g>
<g id="b3-1" transform="translate(1137,155)"><text class="lb" y="-4">丸石</text><text class="sc" y="15.5">6-2</text></g>
<g id="b3-2" transform="translate(1137,475)"><text class="lb" y="-4">伊勢坊</text><text class="sc" y="15.5">6-1</text></g>
<g id="b3-3" transform="translate(1137,795)"><text class="lb" y="-4">池内</text><text class="sc" y="15.5">6-3</text></g>
<g id="b3-4" transform="translate(1137,1115)"><text class="lb" y="-4">橘髙</text><text class="sc" y="15.5">6-1</text></g>
<g id="b3-5" transform="translate(1137,1435)"><text class="lb" y="-4">岡崎</text><text class="sc" y="15.5">6-0</text></g>
<g id="b3-6" transform="translate(1137,1745.9)"><text class="lb" y="-4">三皷</text><text class="sc" y="15.5">6-2</text></g>
<g id="b3-7" transform="translate(1137,2045.1)"><text class="lb" y="-4">猪飼</text><text class="sc" y="15.5">6-4</text></g>
<g id="b3-8" transform="translate(1137,2344.3)"><text class="lb" y="-4">武久</text><text class="sc" y="15.5">6-0</text></g>
<g id="b2-1" transform="translate(1217,75)"><text class="lb" y="-4">丸石</text><text class="sc" y="15.5">6-0</text></g>
<g id="b2-2" transform="translate(1217,235)"><text class="lb" y="-4">栗栖</text><text class="sc" y="15.5">6-1</text></g>
<g id="b2-3" transform="translate(1217,395)"><text class="lb" y="-4">伊勢坊</text><text class="sc" y="15.5">6-0</text></g>
<g id="b2-4" transform="translate(1217,555)"><text class="lb" y="-4">今井</text><text class="sc" y="15.5">6-3</text></g>
<g id="b2-5" transform="translate(1217,715)"><text class="lb" y="-4">池内</text><text class="sc" y="15.5">6-3</text></g>
<g id="b2-6" transform="translate(1217,875)"><text class="lb" y="-4">恵南</text><text class="sc" y="15.5">6-4</text></g>
<g id="b2-7" transform="translate(1217,1035)"><text class="lb" y="-4">馬庭</text><text class="sc" y="15.5">6-3</text></g>
<g id="b2-8" transform="translate(1217,1195)"><text class="lb" y="-4">橘髙</text><text class="sc" y="15.5">6-3</text></g>
<g id="b2-9" transform="translate(1217,1355)"><text class="lb" y="-4">岡崎</text><text class="sc" y="15.5">6-1</text></g>
<g id="b2-10" transform="translate(1217,1515)"><text class="lb" y="-4">城本</text><text class="sc" y="15.5">6-4</text></g>
<g id="b2-11" transform="translate(1217,1671.1)"><text class="lb" y="-4">重本</text><text class="sc" y="15.5">6-3</text></g>
<g id="b2-12" transform="translate(1217,1820.7)"><text class="lb" y="-4">三皷</text><text class="sc" y="15.5">6-0</text></g>
<g id="b2-13" transform="translate(1217,1970.3)"><text class="lb" y="-4">猪飼</text><text class="sc" y="15.5">6-2</text></g>
<g id="b2-14" transform="translate(1217,2119.9)"><text class="lb" y="-4">有田</text><text class="sc" y="15.5">6-2</text></g>
<g id="b2-15" transform="translate(1217,2269.5)"><text class="lb" y="-4">木村</text><text class="sc sm" y="15">7-6(2)</text></g>
<g id="b2-16" transform="translate(1217,2419.1)"><text class="lb" y="-4">武久</text><text class="sc" y="15.5">6-3</text></g>
<g id="b1-1" transform="translate(1298,35)"><text class="lb" y="-4">丸石</text></g>
<g id="b1-2" transform="translate(1298,115)"><text class="lb" y="-4">伊藤</text><text class="sc" y="15.5">6-2</text></g>
<g id="b1-3" transform="translate(1298,195)"><text class="lb" y="-4">山口</text></g>
<g id="b1-4" transform="translate(1298,275)"><text class="lb" y="-4">栗栖</text></g>
<g id="b1-5" transform="translate(1298,355)"><text class="lb" y="-4">伊勢坊</text></g>
<g id="b1-6" transform="translate(1298,435)"><text class="lb" y="-4">宮地</text></g>
<g id="b1-7" transform="translate(1298,515)"><text class="lb" y="-4">今井</text><text class="sc" y="15.5">6-4</text></g>
<g id="b1-8" transform="translate(1298,595)"><text class="lb" y="-4">草野</text></g>
<g id="b1-9" transform="translate(1298,675)"><text class="lb" y="-4">池内</text></g>
<g id="b1-10" transform="translate(1298,755)"><text class="lb" y="-4">井上</text><text class="sc" y="15.5">6-1</text></g>
<g id="b1-11" transform="translate(1298,835)"><text class="lb" y="-4">恵南</text></g>
<g id="b1-12" transform="translate(1298,915)"><text class="lb" y="-4">土肥</text></g>
<g id="b1-13" transform="translate(1298,995)"><text class="lb" y="-4">馬庭</text></g>
<g id="b1-14" transform="translate(1298,1075)"><text class="lb" y="-4">牛尾</text></g>
<g id="b1-15" transform="translate(1298,1155)"><text class="lb" y="-4">秋元</text><text class="sc sm" y="15">7-6(12)</text></g>
<g id="b1-16" transform="translate(1298,1235)"><text class="lb" y="-4">橘髙</text></g>
<g id="b1-17" transform="translate(1298,1315)"><text class="lb" y="-4">岡崎</text></g>
<g id="b1-18" transform="translate(1298,1395)"><text class="lb" y="-4">有田</text><text class="sc" y="15.5">6-2</text></g>
<g id="b1-19" transform="translate(1298,1475)"><text class="lb" y="-4">城本</text></g>
<g id="b1-20" transform="translate(1298,1555)"><text class="lb" y="-4">秦</text></g>
<g id="b1-21" transform="translate(1298,1633.7)"><text class="lb" y="-4">熊田</text></g>
<g id="b1-22" transform="translate(1298,1708.5)"><text class="lb" y="-4">重本</text></g>
<g id="b1-23" transform="translate(1298,1783.3)"><text class="lb" y="-4">竹中</text><text class="sc" y="15.5">6-4</text></g>
<g id="b1-24" transform="translate(1298,1858.1)"><text class="lb" y="-4">三皷</text></g>
<g id="b1-25" transform="translate(1298,1932.9)"><text class="lb" y="-4">猪飼</text></g>
<g id="b1-26" transform="translate(1298,2007.7)"><text class="lb" y="-4">三浦</text><text class="sc" y="15.5">6-2</text></g>
<g id="b1-27" transform="translate(1298,2082.5)"><text class="lb" y="-4">有田</text></g>
<g id="b1-28" transform="translate(1298,2157.3)"><text class="lb" y="-4">鈴木</text></g>
<g id="b1-29" transform="translate(1298,2232.1)"><text class="lb" y="-4">木村</text></g>
<g id="b1-30" transform="translate(1298,2306.9)"><text class="lb" y="-4">栗島</text></g>
<g id="b1-31" transform="translate(1298,2381.7)"><text class="lb" y="-4">菅沼</text><text class="sc" y="15.5">6-2</text></g>
<g id="b1-32" transform="translate(1298,2456.5)"><text class="lb" y="-4">武久</text></g>
</g>
<g id="final-score"><text class="sc" x="866" y="621" style="font-size:20px;letter-spacing:2px">8-5</text></g>
<g id="champion">
<rect x="812" y="475" width="109" height="80" fill="#fff" stroke="#000" stroke-width="1.3"/>
<text class="ch" x="866" y="502" style="font-size:18px">武久　翔悟</text>
<text class="ch" x="866" y="540" style="font-size:14px">(広島なぎさ)</text>
</g>
<g id="third-place">
<rect x="733" y="2233" width="269" height="129" fill="none" stroke="#000" stroke-width="2" stroke-dasharray="9 6"/>
<text class="lb" x="762" y="2265" style="text-anchor:start">3位決定戦</text>
<text class="lb" x="786" y="2293.5">今井</text>
<text class="lb" x="786" y="2330.5">橘髙</text>
<text class="lb" x="948" y="2284">今井</text>
<text class="lb" x="948" y="2301" style="font-size:12px">(修道)</text>
<text class="sc" x="948" y="2322.5">8-4</text>
</g>
</svg>
